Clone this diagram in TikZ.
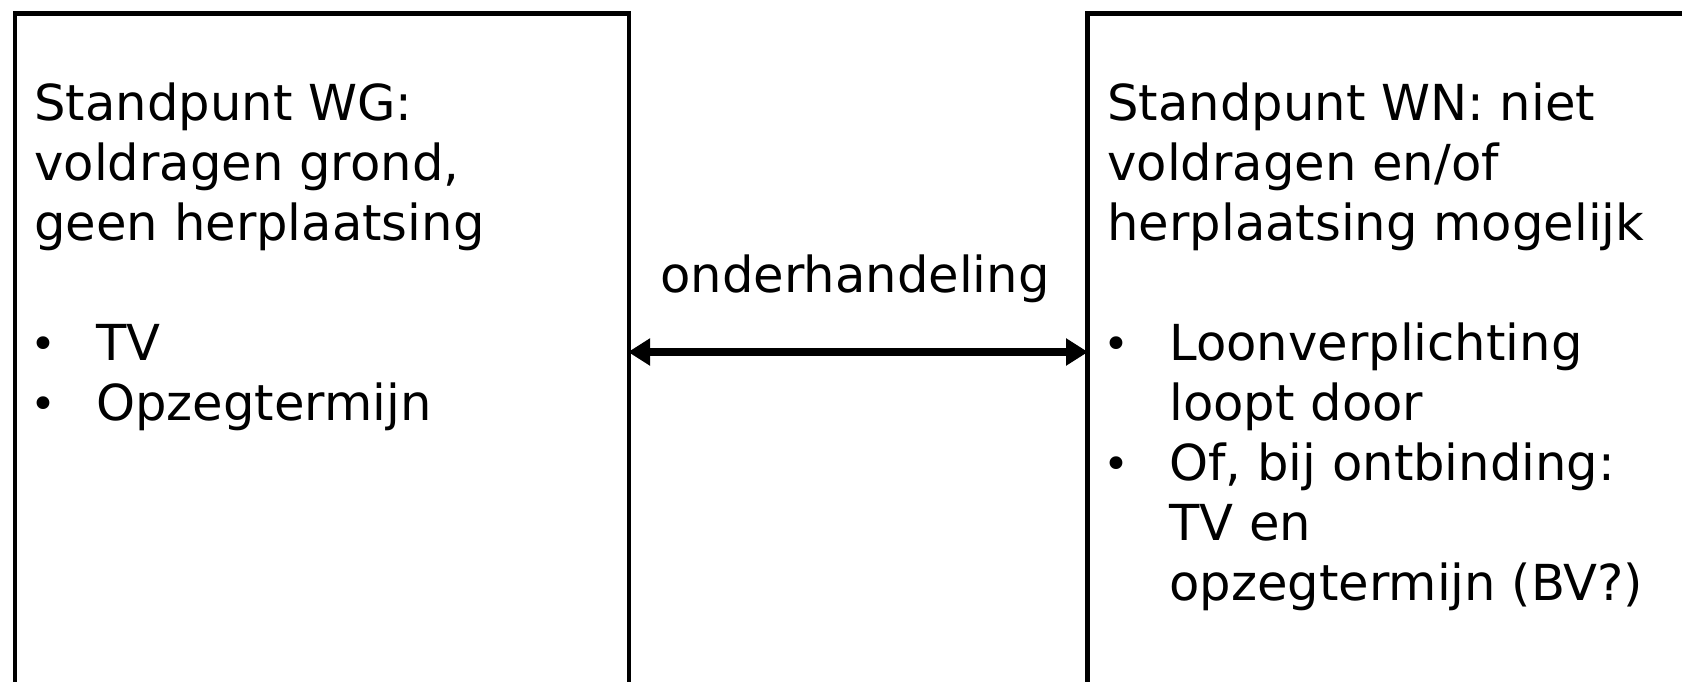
\documentclass[tikz,border=0pt]{standalone}
\usepackage{fontspec}
\setmainfont{DejaVu Sans}
\usetikzlibrary{arrows.meta}
\tikzset{
  panel/.style={draw=black, line width=2.3pt, fill=none, rectangle, anchor=north west, inner sep=0pt},
  txt/.style={anchor=base west, inner sep=0pt, font=\fontsize{24.8pt}{30pt}\selectfont},
  bul/.style={anchor=base west, inner sep=0pt, font=\fontsize{22pt}{30pt}\selectfont},
  link/.style={line width=3.7pt, {Triangle[length=11pt,width=13pt]}-{Triangle[length=11pt,width=13pt]}, shorten <=-1.5pt, shorten >=-1.5pt}
}
\begin{document}
\begin{tikzpicture}[x=0.5pt,y=-0.5pt]
\useasboundingbox (0,0) rectangle (1682,681);
\clip (0,0) rectangle (1682,681);
\fill[white] (0,0) rectangle (1682,681);
% panels
\node[panel, minimum width=307pt, minimum height=400pt] (L) at (12.5,11) {};
\node[panel, minimum width=340pt, minimum height=400pt] (R) at (1085,11) {};
% left text
\node[txt] (l1) at (34,120) {Standpunt WG:};
\node[txt] (l2) at (34,180) {voldragen grond,};
\node[txt] (l3) at (34,240) {geen herplaatsing};
\node[bul] (lb1) at (30,359) {•};
\node[txt] (l4) at (96,360) {TV};
\node[bul] (lb2) at (30,419) {•};
\node[txt] (l5) at (96,420) {Opzegtermijn};
% right text
\node[txt] (r1) at (1107,120) {Standpunt WN: niet};
\node[txt] (r2) at (1107,180) {voldragen en/of};
\node[txt] (r3) at (1107,240) {herplaatsing mogelijk};
\node[bul] (rb1) at (1103,359) {•};
\node[txt] (r4) at (1169,360) {Loonverplichting};
\node[txt] (r5) at (1169,420) {loopt door};
\node[bul] (rb2) at (1103,479) {•};
\node[txt] (r6) at (1169,480) {Of, bij ontbinding:};
\node[txt] (r7) at (1169,540) {TV en};
\node[txt] (r8) at (1169,600) {opzegtermijn (BV?)};
% middle
\node[txt, anchor=base] (m) at (855,292) {onderhandeling};
\coordinate (a1) at (L.north east |- 0,352);
\coordinate (a2) at (R.north west |- 0,352);
\draw[link] (a1) -- (a2);
\end{tikzpicture}
\end{document}
